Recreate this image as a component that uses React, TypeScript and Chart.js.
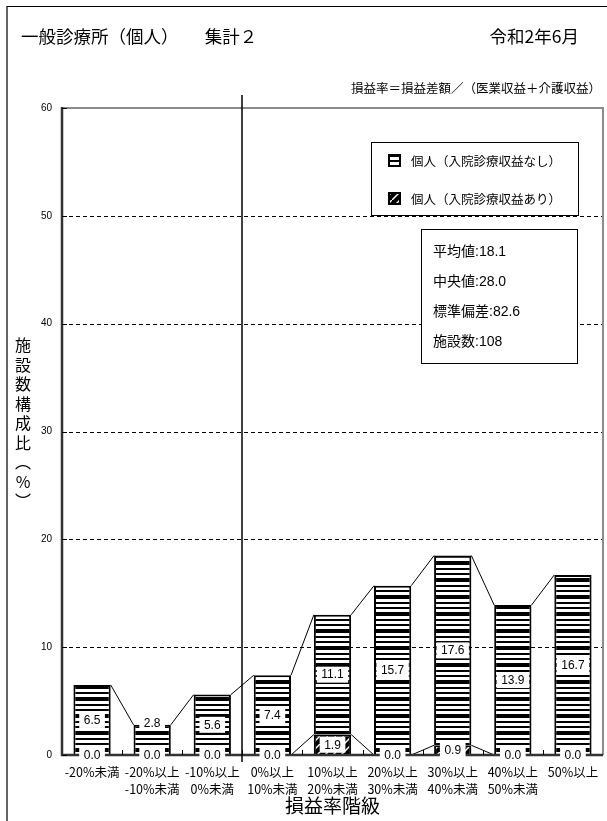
import React, { useEffect, useRef } from 'react';
import { Chart, registerables } from 'chart.js';

Chart.register(...registerables);

const categories: string[][] = [
  ['-20%未満'],
  ['-20%以上', '-10%未満'],
  ['-10%以上', '0%未満'],
  ['0%以上', '10%未満'],
  ['10%以上', '20%未満'],
  ['20%以上', '30%未満'],
  ['30%以上', '40%未満'],
  ['40%以上', '50%未満'],
  ['50%以上'],
];
const seriesNames = ['個人（入院診療収益なし）', '個人（入院診療収益あり）'];
const withoutInpatient = [6.5, 2.8, 5.6, 7.4, 11.1, 15.7, 17.6, 13.9, 16.7];
const withInpatient = [0.0, 0.0, 0.0, 0.0, 1.9, 0.0, 0.9, 0.0, 0.0];
const yTickValues = [0, 10, 20, 30, 40, 50, 60];
const statNames = ['平均値', '中央値', '標準偏差', '施設数'];
const statValues = ['18.1', '28.0', '82.6', '108'];
const titleText = '一般診療所（個人）　　集計２';
const dateText = '令和2年6月';
const noteText = '損益率＝損益差額／（医業収益＋介護収益）';
const yTitle = '施設数構成比（%）';
const xTitle = '損益率階級';

const JP = "'Noto Sans CJK JP', sans-serif";
const NUM = "'Liberation Sans', 'Noto Sans CJK JP', sans-serif";

function makeStripe(): CanvasPattern | string {
  const c = document.createElement('canvas');
  c.width = 8;
  c.height = 17;
  const g = c.getContext('2d');
  if (!g) return '#fff';
  g.fillStyle = '#fff';
  g.fillRect(0, 0, 8, 17);
  g.fillStyle = '#000';
  g.fillRect(0, 0, 8, 4);
  g.fillRect(0, 7, 8, 2);
  g.fillRect(0, 12, 8, 2);
  return g.createPattern(c, 'repeat') || '#fff';
}

function makeDiag(): CanvasPattern | string {
  const c = document.createElement('canvas');
  c.width = 8;
  c.height = 8;
  const g = c.getContext('2d');
  if (!g) return '#000';
  g.fillStyle = '#000';
  g.fillRect(0, 0, 8, 8);
  g.strokeStyle = '#fff';
  g.lineWidth = 1.5;
  g.beginPath();
  g.moveTo(0, 8);
  g.lineTo(8, 0);
  g.stroke();
  return g.createPattern(c, 'repeat') || '#000';
}

export default function App() {
  const ref = useRef<HTMLCanvasElement | null>(null);

  useEffect(() => {
    document.body.style.margin = '0';
    const canvas = ref.current;
    if (!canvas) return;
    const stripe = makeStripe();
    const diag = makeDiag();

    const decor = {
      id: 'decor',
      beforeDraw(chart: any) {
        const { ctx, width, height } = chart;
        ctx.save();
        ctx.fillStyle = '#fff';
        ctx.fillRect(0, 0, width, height);
        // outer frame
        ctx.strokeStyle = '#000';
        ctx.lineWidth = 1.2;
        ctx.beginPath();
        ctx.moveTo(width + 2, 6.5);
        ctx.lineTo(7, 6.5);
        ctx.lineTo(7, height + 2);
        ctx.stroke();
        // titles
        ctx.fillStyle = '#000';
        ctx.textBaseline = 'middle';
        ctx.font = `17.5px ${JP}`;
        ctx.textAlign = 'left';
        ctx.fillText(titleText, 21, 36);
        ctx.textAlign = 'right';
        ctx.fillText(dateText, 579, 36);
        ctx.font = `12.5px ${JP}`;
        ctx.fillText(noteText, 601, 88);
        ctx.restore();
      },
      beforeDatasetsDraw(chart: any) {
        const { ctx, chartArea } = chart;
        const y = chart.scales.y;
        ctx.save();
        ctx.strokeStyle = '#000';
        ctx.lineWidth = 1;
        ctx.setLineDash([4, 3]);
        yTickValues.forEach((v) => {
          if (v === 0 || v === 60) return;
          const py = Math.round(y.getPixelForValue(v)) + 0.5;
          ctx.beginPath();
          ctx.moveTo(chartArea.left, py);
          ctx.lineTo(chartArea.right, py);
          ctx.stroke();
        });
        ctx.restore();
      },
      afterDatasetsDraw(chart: any) {
        const { ctx, chartArea } = chart;
        const x = chart.scales.x;
        const y = chart.scales.y;
        ctx.save();
        // series lines
        ctx.strokeStyle = '#000';
        ctx.lineWidth = 1;
        chart.data.datasets.forEach((_ds: any, di: number) => {
          const meta = chart.getDatasetMeta(di);
          for (let i = 0; i < meta.data.length - 1; i++) {
            const a = meta.data[i];
            const b = meta.data[i + 1];
            ctx.beginPath();
            ctx.moveTo(a.x + a.width / 2, a.y);
            ctx.lineTo(b.x - b.width / 2, b.y);
            ctx.stroke();
          }
        });
        // plot frame
        ctx.lineWidth = 2;
        ctx.strokeStyle = '#8c8c8c';
        ctx.beginPath();
        ctx.moveTo(chartArea.left, chartArea.top);
        ctx.lineTo(chartArea.right, chartArea.top);
        ctx.lineTo(chartArea.right, chartArea.bottom);
        ctx.stroke();
        ctx.strokeStyle = '#333';
        ctx.lineWidth = 2.5;
        ctx.beginPath();
        ctx.moveTo(chartArea.left, chartArea.top - 1);
        ctx.lineTo(chartArea.left, chartArea.bottom);
        ctx.lineTo(chartArea.right, chartArea.bottom);
        ctx.stroke();
        // inside ticks
        ctx.lineWidth = 1;
        ctx.strokeStyle = '#000';
        yTickValues.forEach((v) => {
          const py = Math.round(y.getPixelForValue(v)) + 0.5;
          ctx.beginPath();
          ctx.moveTo(chartArea.left, py);
          ctx.lineTo(chartArea.left + 5, py);
          ctx.stroke();
        });
        for (let i = 1; i < categories.length; i++) {
          const px = Math.round((x.getPixelForValue(i - 1) + x.getPixelForValue(i)) / 2) + 0.5;
          ctx.beginPath();
          ctx.moveTo(px, chartArea.bottom);
          ctx.lineTo(px, chartArea.bottom - 5);
          ctx.stroke();
        }
        // separator between negative and positive classes
        const sep = Math.round((x.getPixelForValue(2) + x.getPixelForValue(3)) / 2);
        ctx.lineWidth = 1.5;
        ctx.beginPath();
        ctx.moveTo(sep, chartArea.top - 13);
        ctx.lineTo(sep, chartArea.bottom + 7);
        ctx.stroke();
        // value labels
        ctx.font = `12px ${NUM}`;
        ctx.textAlign = 'center';
        ctx.textBaseline = 'middle';
        chart.data.datasets.forEach((ds: any, di: number) => {
          const meta = chart.getDatasetMeta(di);
          meta.data.forEach((el: any, i: number) => {
            const txt = Number(ds.data[i]).toFixed(1);
            const segH = Math.abs(el.base - el.y);
            let cy = (el.y + el.base) / 2;
            if (di > 0 && segH < 34) cy = el.y - 2;
            const w = ctx.measureText(txt).width + 9;
            ctx.fillStyle = '#fff';
            ctx.fillRect(el.x - w / 2, cy - 8, w, 16);
            ctx.fillStyle = '#000';
            ctx.fillText(txt, el.x, cy + 0.5);
          });
        });
        // legend box
        ctx.lineWidth = 1;
        ctx.fillStyle = '#fff';
        ctx.fillRect(371, 142, 207, 73);
        ctx.strokeStyle = '#000';
        ctx.strokeRect(371.5, 142.5, 207, 73);
        const legendItems = [
          { name: seriesNames[0], fill: stripe, cy: 161 },
          { name: seriesNames[1], fill: diag, cy: 199 },
        ];
        legendItems.forEach((it) => {
          ctx.fillStyle = it.fill as any;
          ctx.fillRect(389, it.cy - 6, 11, 11);
          ctx.lineWidth = 2;
          ctx.strokeStyle = '#000';
          ctx.strokeRect(389, it.cy - 6, 11, 11);
          ctx.fillStyle = '#000';
          ctx.font = `12.5px ${JP}`;
          ctx.textAlign = 'left';
          ctx.fillText(it.name, 411, it.cy);
        });
        // stats box
        ctx.lineWidth = 1;
        ctx.fillStyle = '#fff';
        ctx.fillRect(421, 229, 156, 134);
        ctx.strokeStyle = '#000';
        ctx.strokeRect(421.5, 229.5, 156, 134);
        ctx.fillStyle = '#000';
        ctx.font = `14px ${NUM}`;
        const rows = [252, 282, 312, 342];
        statNames.forEach((n, i) => {
          ctx.fillText(`${n}:${statValues[i]}`, 433, rows[i]);
        });
        // y-axis title (vertical writing)
        ctx.font = `16px ${JP}`;
        ctx.textAlign = 'center';
        const chars = Array.from(yTitle).map((c) => (c === '（' ? '︵' : c === '）' ? '︶' : c));
        chars.forEach((c, i) => {
          ctx.fillText(c, 23, 345 + i * 19.5);
        });
        ctx.restore();
      },
    };

    const chart = new Chart(canvas, {
      type: 'bar',
      data: {
        labels: categories,
        datasets: [
          {
            label: seriesNames[1],
            data: withInpatient,
            backgroundColor: diag as any,
            borderColor: '#000',
            borderWidth: 2,
            barPercentage: 0.62,
            categoryPercentage: 1,
          },
          {
            label: seriesNames[0],
            data: withoutInpatient,
            backgroundColor: stripe as any,
            borderColor: '#000',
            borderWidth: 2,
            barPercentage: 0.62,
            categoryPercentage: 1,
          },
        ],
      },
      options: {
        animation: false,
        responsive: true,
        maintainAspectRatio: false,
        layout: { padding: { left: 0, top: 108, right: 4, bottom: 0 } },
        plugins: {
          legend: { display: false },
          tooltip: { enabled: false },
          title: { display: false },
        },
        scales: {
          x: {
            stacked: true,
            grid: { display: false, drawTicks: false },
            border: { display: false },
            ticks: {
              color: '#000',
              font: { family: JP, size: 12.5, lineHeight: 1.4 },
              padding: 8,
              maxRotation: 0,
              autoSkip: false,
            },
            title: {
              display: true,
              text: xTitle,
              color: '#000',
              font: { family: JP, size: 19 },
              padding: { top: 0, bottom: 4 },
            },
            afterFit: (s: any) => {
              s.height = 66;
            },
          },
          y: {
            stacked: true,
            min: 0,
            max: 60,
            grid: { display: false, drawTicks: false },
            border: { display: false },
            ticks: {
              stepSize: 10,
              color: '#000',
              font: { family: NUM, size: 10 },
              padding: 10,
            },
            afterFit: (s: any) => {
              s.width = 62;
            },
          },
        },
      },
      plugins: [decor],
    } as any);

    return () => {
      chart.destroy();
    };
  }, []);

  return (
    <div style={{ position: 'relative', width: 607, height: 821 }}>
      <canvas ref={ref} />
    </div>
  );
}
